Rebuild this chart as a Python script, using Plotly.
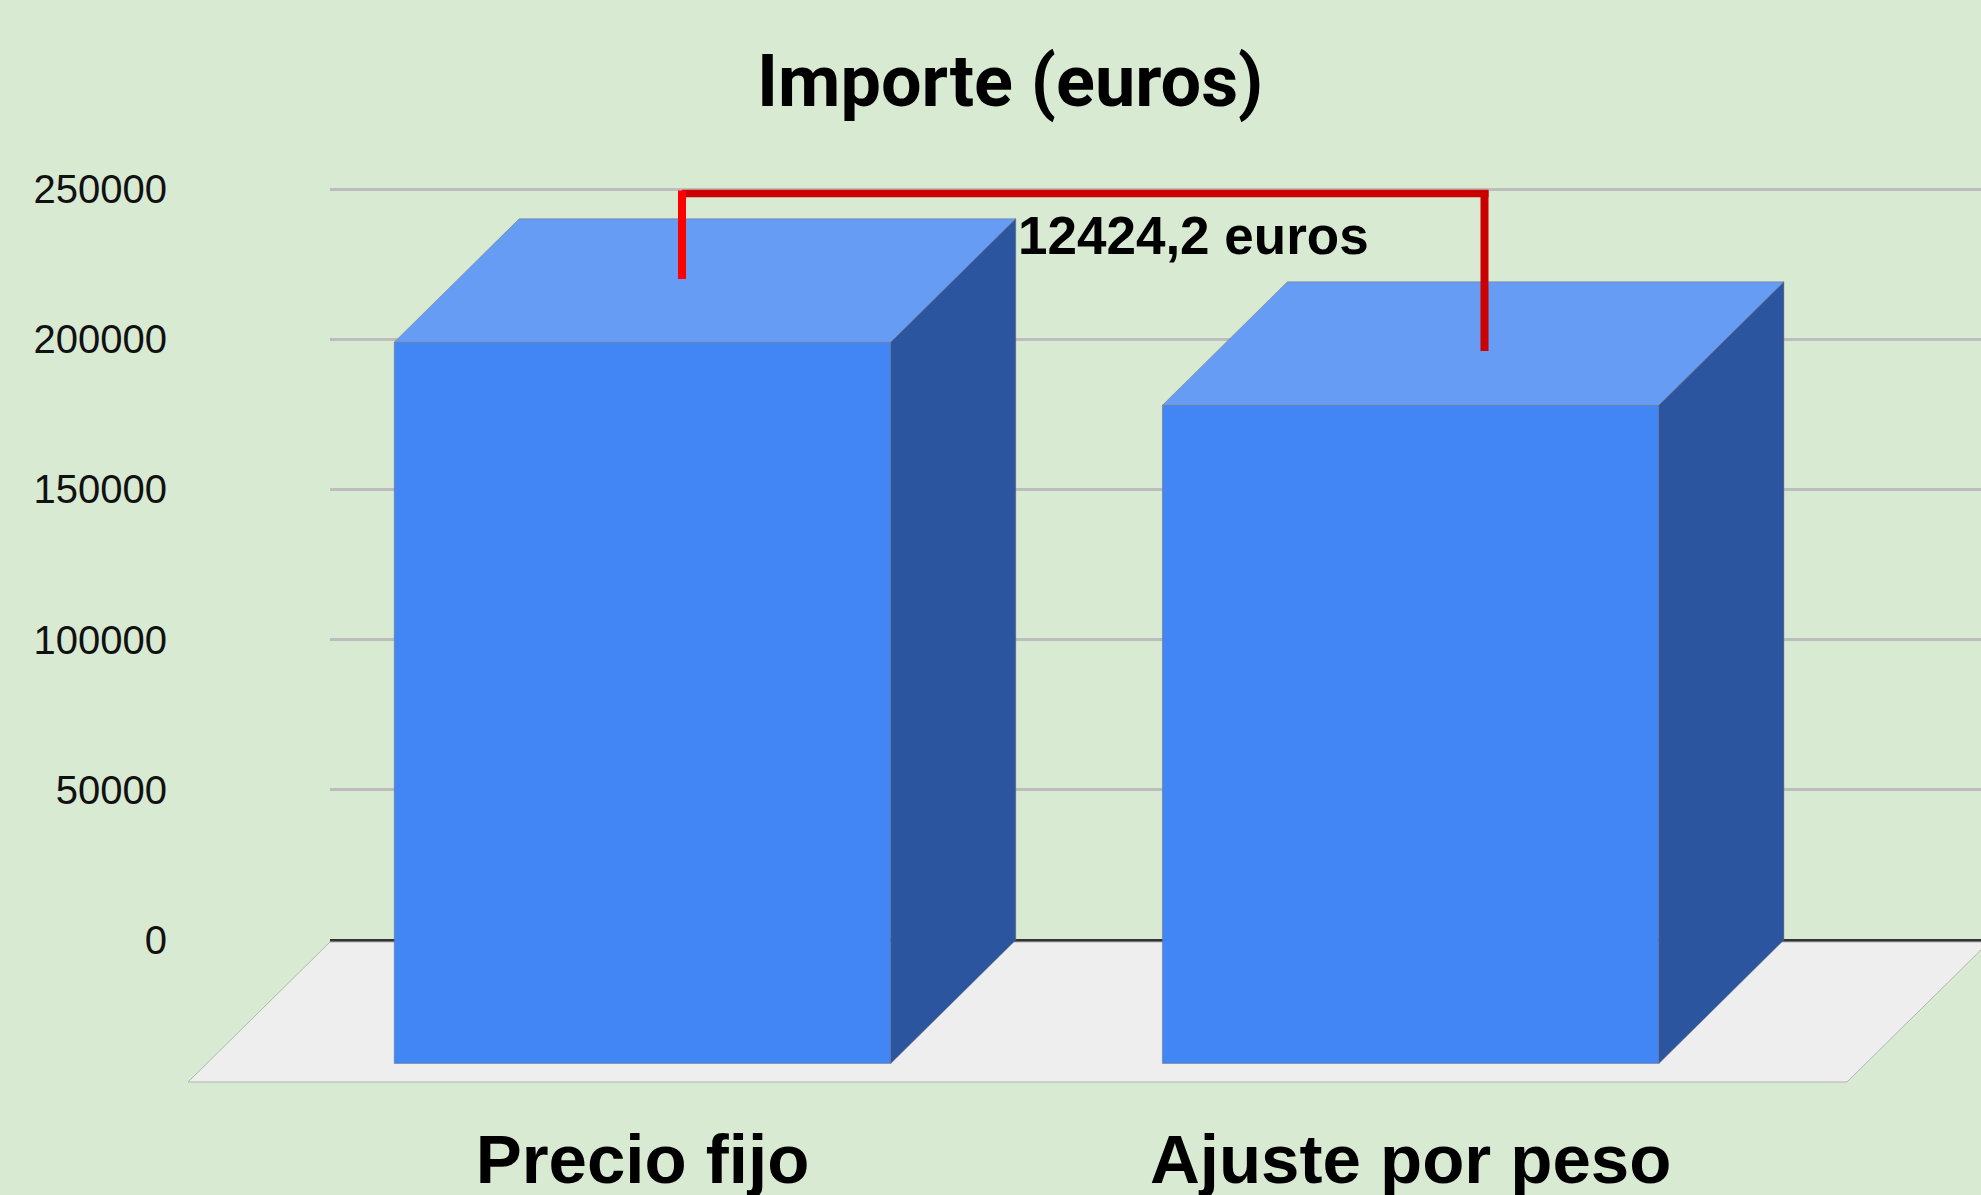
import plotly.graph_objects as go

# ---------------- data ----------------
categories = ["Precio fijo", "Ajuste por peso"]
importes = [240100, 219100]
y_tick_values = [0, 50000, 100000, 150000, 200000, 250000]
y_tick_labels = ["0", "50000", "100000", "150000", "200000", "250000"]
chart_title = "Importe (euros)"
diferencia_label = "12424,2 euros"

# ---------------- style / geometry ----------------
W, H = 1981, 1195
BG = "#d9ead3"
FRONT = "#4285f4"
TOP = "#679cf4"
SIDE = "#2b559f"
EDGE = "rgba(110,110,110,0.45)"

PX_PER_UNIT = 751 / 250000      # vertical pixels per euro
BACK_ZERO = 940.0               # pixel row of the back-wall baseline
BACK_LEFT = 330.0               # left end of back-wall gridlines
DEPTH_X = 125.0                 # bar depth (pixels, to the right)
DEPTH_Y = 123.5                 # bar depth (pixels, upwards)
FRONT_ZERO = BACK_ZERO + DEPTH_Y
CAT0 = 642.5                    # pixel centre of the first category (front)
CAT_STEP = 768.15               # pixels between categories
BAR_W = 0.6464                  # bar width in category units
FLOOR_DEPTH = 142.0
FLOOR_FRONT_LEFT = BACK_LEFT - FLOOR_DEPTH
FLOOR_FRONT_RIGHT = 1847.0


def fx(px):
    return (px - CAT0) / CAT_STEP


def fy(py):
    return (FRONT_ZERO - py) / PX_PER_UNIT


def px_x(px):
    return px / W


def px_y(py):
    return 1 - py / H


dx = DEPTH_X / CAT_STEP
dy = DEPTH_Y / PX_PER_UNIT

fig = go.Figure()

# invisible trace that anchors the back-wall axes (gridlines + tick labels)
fig.add_trace(go.Scatter(
    x=[0, 1], y=[y_tick_values[0], y_tick_values[-1]], xaxis="x", yaxis="y",
    mode="markers", marker=dict(opacity=0, size=1),
    hoverinfo="skip", showlegend=False,
))

# front faces of the bars
xs = list(range(len(categories)))
fig.add_trace(go.Bar(
    x=xs, y=importes, width=BAR_W, xaxis="x2", yaxis="y2",
    marker=dict(color=FRONT, line=dict(color=EDGE, width=1)),
    hoverinfo="skip", showlegend=False,
))

# top and side faces, computed from the values
for xi, v in zip(xs, importes):
    l, r = xi - BAR_W / 2, xi + BAR_W / 2
    fig.add_trace(go.Scatter(
        x=[l, r, r + dx, l + dx, l], y=[v, v, v + dy, v + dy, v],
        xaxis="x2", yaxis="y2", mode="lines", fill="toself",
        fillcolor=TOP, line=dict(color=EDGE, width=1),
        hoverinfo="skip", showlegend=False,
    ))
    fig.add_trace(go.Scatter(
        x=[r, r + dx, r + dx, r, r], y=[0, dy, v + dy, v, 0],
        xaxis="x2", yaxis="y2", mode="lines", fill="toself",
        fillcolor=SIDE, line=dict(color=EDGE, width=1),
        hoverinfo="skip", showlegend=False,
    ))

# floor
floor_path = "M {},{} L {},{} L {},{} L {},{} Z".format(
    fx(FLOOR_FRONT_LEFT), fy(BACK_ZERO + FLOOR_DEPTH),
    fx(FLOOR_FRONT_RIGHT), fy(BACK_ZERO + FLOOR_DEPTH),
    fx(FLOOR_FRONT_RIGHT + FLOOR_DEPTH), fy(BACK_ZERO + 2),
    fx(BACK_LEFT), fy(BACK_ZERO + 2),
)
shapes = [dict(type="path", path=floor_path, xref="x2", yref="y2",
               layer="between", fillcolor="#eeeeee",
               line=dict(color="#b5b5b5", width=1))]

# red bracket
RED_Y = 193.5
LEFT_X, RIGHT_X = 682, 1484.5
shapes += [
    dict(type="line", xref="paper", yref="paper", layer="above",
         x0=px_x(LEFT_X), x1=px_x(RIGHT_X + 4), y0=px_y(RED_Y), y1=px_y(RED_Y),
         line=dict(color="#cc0000", width=7.5)),
    dict(type="line", xref="paper", yref="paper", layer="above",
         x0=px_x(LEFT_X), x1=px_x(LEFT_X), y0=px_y(RED_Y - 3), y1=px_y(279),
         line=dict(color="#ff0000", width=8)),
    dict(type="line", xref="paper", yref="paper", layer="above",
         x0=px_x(RIGHT_X), x1=px_x(RIGHT_X), y0=px_y(RED_Y - 3), y1=px_y(351),
         line=dict(color="#cc0000", width=8)),
]

annotations = [
    dict(text=chart_title, xref="paper", yref="paper",
         x=px_x(1009.5), y=px_y(82), xanchor="center", yanchor="middle",
         showarrow=False,
         font=dict(family="Roboto", size=72, color="#000000", weight="bold")),
    dict(text=diferencia_label, xref="paper", yref="paper",
         x=px_x(1016), y=px_y(235), xanchor="left", yanchor="middle",
         showarrow=False,
         font=dict(family="Liberation Sans, Arial", size=53, color="#000000",
                   weight="bold")),
]

back_top = 110.0
fig.update_layout(
    width=W, height=H, autosize=False,
    margin=dict(l=0, r=0, t=0, b=0, pad=0),
    paper_bgcolor=BG, plot_bgcolor="rgba(0,0,0,0)",
    showlegend=False, hovermode=False,
    shapes=shapes, annotations=annotations,
    xaxis=dict(domain=[BACK_LEFT / W, 1], range=[0, 1], anchor="y",
               showgrid=False, zeroline=False, showticklabels=False,
               showline=False, ticks="", fixedrange=True),
    yaxis=dict(domain=[px_y(BACK_ZERO), px_y(back_top)], anchor="x",
               range=[0, (BACK_ZERO - back_top) / PX_PER_UNIT],
               tickmode="array", tickvals=y_tick_values, ticktext=y_tick_labels,
               showgrid=True, gridcolor="#bdbdbd", gridwidth=3,
               zeroline=True, zerolinecolor="#333333", zerolinewidth=3,
               showline=False, ticks="", ticklabelstandoff=162,
               tickfont=dict(family="Liberation Sans, Arial", size=40,
                             color="#111111"),
               automargin=False, fixedrange=True),
    xaxis2=dict(domain=[0, 1], range=[fx(0), fx(W)], anchor="free",
                position=px_y(BACK_ZERO + FLOOR_DEPTH),
                tickmode="array", tickvals=xs, ticktext=categories,
                showgrid=False, zeroline=False, showline=False, ticks="",
                ticklabelstandoff=31,
                tickfont=dict(family="Liberation Sans, Arial", size=69,
                              color="#000000", weight="bold"),
                automargin=False, fixedrange=True),
    yaxis2=dict(domain=[0, 1], anchor="x2", range=[fy(H), fy(0)],
                visible=False, fixedrange=True),
)

fig.write_html(
    "out.html",
    config={"displayModeBar": False},
    post_script="document.body.style.margin='0';document.body.style.padding='0';"
                "document.body.style.overflow='hidden';",
)
